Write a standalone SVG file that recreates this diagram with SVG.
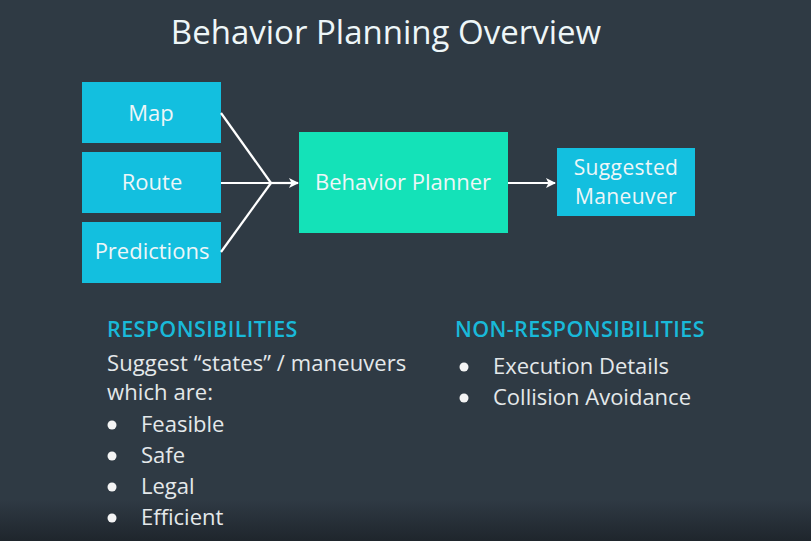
<svg xmlns="http://www.w3.org/2000/svg" width="811" height="541" viewBox="0 0 811 541">
<defs>
<linearGradient id="shade" x1="0" y1="0" x2="0" y2="1">
<stop offset="0" stop-color="#1c2228" stop-opacity="0"/>
<stop offset="1" stop-color="#1c2228" stop-opacity="0.85"/>
</linearGradient>
<marker id="arr" viewBox="0 0 10 10" refX="9" refY="5" markerWidth="10" markerHeight="10" markerUnits="userSpaceOnUse" orient="auto">
<path d="M0,0 L10,5 L0,10 L2.5,5 Z" fill="#ffffff"/>
</marker>
<style>
.t{font-family:"Open Sans","Noto Sans","Liberation Sans",sans-serif;fill:#eef6f8;font-size:22px}
.t2{font-size:21px;letter-spacing:0.4px}
.t3{font-size:21px;letter-spacing:0.1px}
.in{fill:#13bfdf}
.bp{fill:#14e2b8}
.hd{font-family:"Open Sans","Noto Sans","Liberation Sans",sans-serif;font-weight:600;fill:#19b9d9;font-size:21.5px;letter-spacing:0.4px}
.body{font-family:"Open Sans","Noto Sans","Liberation Sans",sans-serif;fill:#e4e8ea;font-size:22px}
.conn{stroke:#ffffff;stroke-width:2.2;fill:none}
.dot{fill:#f4f4f4}
</style>
</defs>
<rect width="811" height="541" fill="#2f3a44"/>
<rect y="500" width="811" height="41" fill="url(#shade)"/>
<text class="t" x="386" y="44" style="font-size:33px" text-anchor="middle">Behavior Planning Overview</text>
<g id="map"><rect class="in" x="82" y="82" width="139" height="61"/><text class="t" x="151" y="121" text-anchor="middle">Map</text></g>
<g id="route"><rect class="in" x="82" y="152" width="139" height="61"/><text class="t" x="152" y="190" text-anchor="middle">Route</text></g>
<g id="predictions"><rect class="in" x="82" y="222" width="139" height="61"/><text class="t" x="152" y="259" text-anchor="middle">Predictions</text></g>
<g id="planner"><rect class="bp" x="299" y="132" width="209" height="101"/><text class="t" x="403" y="190" text-anchor="middle">Behavior Planner</text></g>
<g id="maneuver"><rect class="in" x="557" y="148" width="138" height="68"/><text class="t t2" x="626" y="175" text-anchor="middle">Suggested</text><text class="t t2" x="626" y="204" text-anchor="middle">Maneuver</text></g>
<g id="connectors">
<path class="conn" d="M221,113 L271,183"/>
<path class="conn" d="M221,183 L271,183"/>
<path class="conn" d="M221,252 L271,183"/>
<path class="conn" d="M271,183 L298,183" marker-end="url(#arr)"/>
<path class="conn" d="M508,183 L555,183" marker-end="url(#arr)"/>
</g>
<g id="responsibilities">
<text class="hd" x="107" y="337">RESPONSIBILITIES</text>
<text class="body t3" x="107" y="371">Suggest “states” / maneuvers</text>
<text class="body t3" x="107" y="400">which are:</text>
<circle class="dot" cx="112" cy="425" r="4.5"/><text class="body" x="141" y="432">Feasible</text>
<circle class="dot" cx="112" cy="456" r="4.5"/><text class="body" x="141" y="463">Safe</text>
<circle class="dot" cx="112" cy="487" r="4.5"/><text class="body" x="141" y="494">Legal</text>
<circle class="dot" cx="112" cy="518" r="4.5"/><text class="body" x="141" y="525">Efficient</text>
</g>
<g id="non-responsibilities">
<text class="hd" x="455" y="337">NON-RESPONSIBILITIES</text>
<circle class="dot" cx="464" cy="367" r="4.5"/><text class="body" x="493" y="374">Execution Details</text>
<circle class="dot" cx="464" cy="398" r="4.5"/><text class="body" x="493" y="405">Collision Avoidance</text>
</g>
</svg>
